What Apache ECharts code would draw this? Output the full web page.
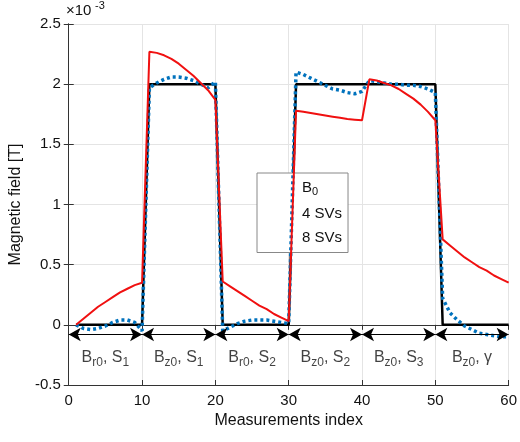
<!DOCTYPE html>
<html>
<head>
<meta charset="utf-8">
<script src="https://cdn.jsdelivr.net/npm/echarts@6/dist/echarts.min.js"></script>
<style>html,body{margin:0;background:#fff}#chart{width:520px;height:442px}</style>
</head>
<body>
<div id="chart"></div>
<script>
// measurement index 1..60
var index = [];
for (var i = 1; i <= 60; i++) index.push(i);

var b0 = [0,0,0,0,0,0,0,0,0,0, 2,2,2,2,2,2,2,2,2,2, 0,0,0,0,0,0,0,0,0,0,
          2,2,2,2,2,2,2,2,2,2, 2,2,2,2,2,2,2,2,2,2, 0,0,0,0,0,0,0,0,0,0];
var sv4 = [0,-0.03,-0.04,-0.03,-0.01,0.02,0.04,0.04,0.02,-0.05,
           1.97,2.01,2.04,2.06,2.06,2.05,2.03,2.0,1.97,2.02,
           -0.05,-0.02,0.01,0.03,0.04,0.04,0.04,0.03,0.02,0.01,
           2.10,2.08,2.05,2.02,1.99,1.96,1.95,1.93,1.92,1.94,
           2.03,2.02,2.01,2.0,2.0,1.99,1.99,1.98,1.96,1.93,
           0.22,0.10,0.04,-0.01,-0.04,-0.07,-0.08,-0.09,-0.1,-0.1];
var sv8 = [0,0.05,0.1,0.15,0.19,0.23,0.27,0.3,0.33,0.35,
           2.27,2.26,2.24,2.21,2.17,2.12,2.07,2.01,1.95,1.87,
           0.36,0.32,0.28,0.24,0.2,0.16,0.13,0.09,0.06,0.03,
           1.78,1.77,1.76,1.75,1.74,1.73,1.72,1.71,1.705,1.70,
           2.04,2.03,2.01,1.99,1.96,1.92,1.88,1.83,1.77,1.70,
           0.71,0.66,0.61,0.56,0.52,0.48,0.45,0.41,0.38,0.35];

// annotation segments
var segStart = [0,10,20,30,40,50];
var segLabels = ['B{s|r0}, S{s|1}','B{s|z0}, S{s|1}','B{s|r0}, S{s|2}','B{s|z0}, S{s|2}','B{s|z0}, S{s|3}','B{s|z0}, γ'];
var arrowY = -0.08, labelY = -0.27;

var font = 'Liberation Sans';
var chart = echarts.init(document.getElementById('chart'));

function pair(a, b) { return a.map(function (v, k) { return [v, b[k]]; }); }

chart.setOption({
  animation: false,
  textStyle: {fontFamily: font},
  grid: {left: 65, right: 11, top: 24, bottom: 57},
  xAxis: [{
    type: 'value', min: 0, max: 60, interval: 10,
    name: 'Measurements index', nameLocation: 'middle', nameGap: 28,
    nameTextStyle: {fontSize: 16, color: '#111'},
    axisLine: {onZero: false, lineStyle: {color: '#333'}},
    axisTick: {inside: true, lineStyle: {color: '#333'}},
    axisLabel: {fontSize: 15, color: '#111'},
    splitLine: {lineStyle: {color: '#e4e4e4'}}
  }, {
    type: 'value', min: 0, max: 60, interval: 10, position: 'top',
    axisLine: {lineStyle: {color: '#333'}}, axisTick: {inside: true}, axisLabel: {show: false}, splitLine: {show: false}
  }],
  yAxis: [{
    type: 'value', min: -0.5, max: 2.5, interval: 0.5,
    name: 'Magnetic field [T]', nameLocation: 'middle', nameGap: 42,
    nameTextStyle: {fontSize: 16, color: '#111'},
    axisLine: {show: true, lineStyle: {color: '#333'}},
    axisTick: {inside: true, lineStyle: {color: '#333'}},
    axisLabel: {fontSize: 15, color: '#111'},
    splitLine: {lineStyle: {color: '#e4e4e4'}}
  }, {
    type: 'value', min: -0.5, max: 2.5, interval: 0.5, position: 'right',
    axisLine: {show: true, lineStyle: {color: '#333'}}, axisTick: {inside: true}, axisLabel: {show: false}, splitLine: {show: false}
  }],
  graphic: [{type: 'text', left: 66, top: 3, style: {text: '×10', font: '15px ' + font, fill: '#111'}},
            {type: 'text', left: 95, top: 0, style: {text: '-3', font: '11px ' + font, fill: '#111'}}],
  legend: {
    left: 257, top: 173, orient: 'vertical', itemWidth: 40, itemHeight: 12, itemGap: 9,
    icon: 'rect', backgroundColor: '#fff', borderColor: '#888', borderWidth: 1, padding: [7, 6, 7, 4],
    textStyle: {fontSize: 15, color: '#111', padding: [0,0,0,-4], rich: {s: {fontSize: 11, verticalAlign: 'bottom', padding: [9,0,0,0]}}},
    formatter: function (n) { return n === 'B0' ? 'B{s|0}' : n; },
    data: ['B0', '4 SVs', '8 SVs']
  },
  series: [
    {name: 'B0', type: 'line', data: pair(index, b0), symbol: 'none', z: 3,
     itemStyle: {color: '#000', opacity: 0}, lineStyle: {color: '#000', width: 2.5}},
    {name: '4 SVs', type: 'line', data: pair(index, sv4), symbol: 'none', z: 4,
     itemStyle: {color: '#0072bd', opacity: 0}, lineStyle: {color: '#0072bd', width: 3.5, type: [3, 3]}},
    {name: '8 SVs', type: 'line', data: pair(index, sv8), symbol: 'none', z: 5,
     itemStyle: {color: '#f01010', opacity: 0}, lineStyle: {color: '#f01010', width: 2}},
    {type: 'line', data: [], silent: true,
     markLine: {
       silent: true, symbol: ['arrow', 'arrow'], symbolSize: [10, 12],
       lineStyle: {color: '#000', width: 1, type: 'solid'}, label: {show: false},
       data: segStart.map(function (s) { return [{coord: [s, arrowY]}, {coord: [s + 10, arrowY]}]; })
     }},
    {type: 'scatter', silent: true, symbolSize: 0,
     data: segStart.map(function (s) { return [s + 5, labelY]; }),
     label: {show: true, position: 'inside', fontSize: 16, color: '#111',
       formatter: function (p) { return segLabels[p.dataIndex]; },
       rich: {s: {fontSize: 12, verticalAlign: 'bottom', padding: [10,0,0,0], color: '#111'}}}}
  ]
});
</script>
</body>
</html>
